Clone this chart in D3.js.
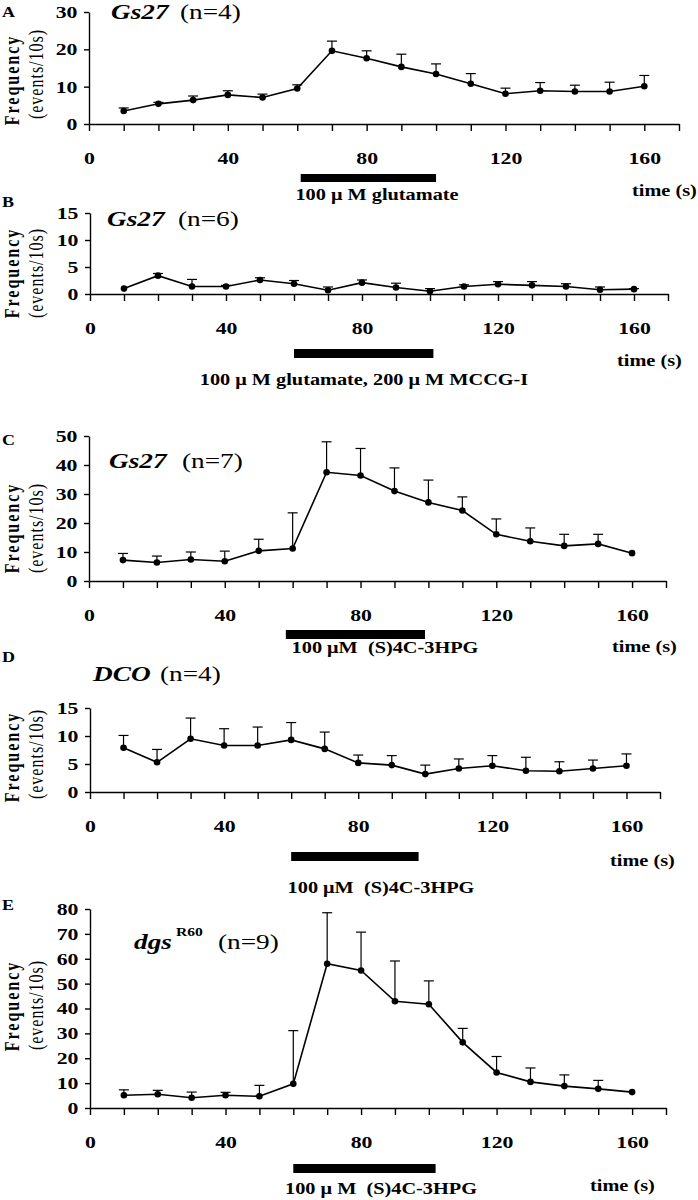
<!DOCTYPE html>
<html><head><meta charset="utf-8">
<script src="https://cdn.jsdelivr.net/npm/d3@7"></script>
<style>
body{margin:0;background:#fff}
svg{display:block}
text{font-family:"Liberation Serif","Times New Roman",serif;white-space:pre;fill:#000}
</style>
</head><body>
<svg id="c" width="698" height="1200"></svg>
<script>
// ---------- data ----------
const times = [10,20,30,40,50,60,70,80,90,100,110,120,130,140,150,160];
const xTickLabels = [0,40,80,120,160];

const meanA = [3.5,5.4,6.4,7.8,7.1,9.5,19.6,17.6,15.3,13.4,10.8,8.1,8.9,8.7,8.7,10.1];
const semA  = [0.8,0.4,1.1,1.1,0.9,1.0,2.6,2.0,3.4,2.7,2.7,1.5,2.2,1.7,2.5,2.9];

const meanB = [1.0,3.4,1.4,1.4,2.6,1.9,0.7,2.1,1.2,0.5,1.4,1.8,1.6,1.4,0.8,0.9];
const semB  = [0.0,0.4,1.3,0.2,0.4,0.6,0.6,0.5,0.8,0.5,0.3,0.5,0.7,0.5,0.5,0.1];

const meanC = [7.2,6.4,7.4,6.8,10.4,11.2,37.5,36.4,31.0,27.1,24.3,16.1,13.7,12.1,12.8,9.6];
const semC  = [2.3,2.2,2.6,3.5,4.0,12.3,10.5,9.3,8.0,7.7,4.7,5.3,4.6,4.0,3.3,0.0];

const meanD = [7.9,5.3,9.5,8.3,8.3,9.3,7.7,5.2,4.8,3.2,4.2,4.7,3.8,3.7,4.2,4.7];
const semD  = [2.2,2.3,3.7,3.0,3.3,3.1,3.0,1.4,1.7,1.6,1.7,1.8,2.4,1.7,1.5,2.1];

const meanE = [5.1,5.5,4.1,5.1,4.7,9.7,58.0,55.3,42.9,41.7,26.4,14.3,10.5,8.8,7.7,6.4];
const semE  = [2.2,1.6,2.3,1.2,4.4,21.4,20.5,15.4,16.2,9.4,5.6,6.4,5.6,4.5,3.4,0.0];

const yMax   = [30, 15, 50, 15, 80];
const yStep  = [10, 5, 10, 5, 10];
const treatStart = [61, 60, 58, 60, 60];
const treatEnd   = [100, 101, 99, 98, 102];
const panelLetters = ["A","B","C","D","E"];
const genotypes = ["Gs27","Gs27","Gs27","DCO","dgs"];
const nLabels = ["(n=4)","(n=6)","(n=7)","(n=4)","(n=9)"];
const treatLabels = [
  "100 \u03BC M glutamate",
  "100 \u03BC M glutamate, 200 \u03BC M MCCG-I",
  "100 \u03BCM  (S)4C-3HPG",
  "100 \u03BCM  (S)4C-3HPG",
  "100 \u03BC M  (S)4C-3HPG"
];
const means = [meanA, meanB, meanC, meanD, meanE];
const sems  = [semA, semB, semC, semD, semE];

// ---------- layout ----------
const layout = [
  {x0:89, x1:679, y0:124, y1:12,  bar:[174,182], tx:377, ty:200, timeX:632, timeY:196, letY:17,  titX:111, titY:19,  nX:180, fy:80,  ey:74},
  {x0:90, x1:668, y0:294, y1:213, bar:[349,358], tx:364, ty:385, timeX:617, timeY:366, letY:207, titX:107, titY:226, nX:178, fy:273, ey:273},
  {x0:89, x1:666, y0:581, y1:436, bar:[630,639], tx:385, ty:653, timeX:612, timeY:652, letY:445, titX:109, titY:468, nX:182, fy:528, ey:528},
  {x0:90, x1:660, y0:792, y1:708, bar:[852,861], tx:381, ty:893, timeX:610, timeY:866, letY:662, titX:93,  titY:681, nX:160, fy:757, ey:754},
  {x0:90, x1:666, y0:1108,y1:909, bar:[1164,1173],tx:381, ty:1194,timeX:590, timeY:1191,letY:910, titX:134, titY:949, nX:218, fy:1006,ey:1005}
];

const FONT = '"Liberation Serif","Times New Roman",serif';
const svg = d3.select("#c");

function T(parent, x, y, str, o = {}) {
  const sx = o.sx || 1.28;
  const g = parent.append("g")
    .attr("transform", `translate(${x},${y}) scale(${sx},1)` + (o.rot ? " rotate(-90)" : ""));
  const t = g.append("text").text(str)
    .attr("font-size", o.size || 16)
    .attr("font-weight", o.weight || "bold")
    .attr("font-style", o.style || "normal")
    .attr("text-anchor", o.anchor || "start");
  if (o.ls) t.attr("letter-spacing", o.ls);
  return t;
}

layout.forEach((L, i) => {
  const x = d3.scaleLinear().domain([0,170]).range([L.x0, L.x1]);
  const y = d3.scaleLinear().domain([0,yMax[i]]).range([L.y0, L.y1]);
  const g = svg.append("g");

  // x tick marks
  const xa = g.append("g").attr("transform", `translate(0,${L.y0})`)
    .call(d3.axisBottom(x).tickValues(d3.range(0,171,10)).tickSize(7).tickSizeOuter(0).tickFormat(""));
  xa.selectAll("path,line").attr("stroke","#000").attr("stroke-width",1.4);

  // x tick labels
  const xl = g.append("g").attr("transform", `translate(0,${L.y0})`)
    .call(d3.axisBottom(x).tickValues(xTickLabels).tickSize(0).tickPadding(28));
  xl.select(".domain").remove();
  xl.selectAll("text")
    .attr("transform", "scale(1.28,1)")
    .attr("font-family", FONT)
    .attr("font-size", 17).attr("font-weight","bold").attr("fill","#000");

  // y axis
  const ya = g.append("g").attr("transform", `translate(${L.x0},0)`)
    .call(d3.axisLeft(y).tickValues(d3.range(0, yMax[i]+0.001, yStep[i])).tickSize(5).tickSizeOuter(0).tickPadding(4));
  ya.selectAll("path,line").attr("stroke","#000").attr("stroke-width",1.4);
  ya.selectAll("text")
    .attr("transform", "scale(1.28,1)")
    .attr("font-family", FONT)
    .attr("font-size", 17).attr("font-weight","bold").attr("fill","#000");

  // error bars
  const eb = g.append("g").attr("stroke","#000").attr("stroke-width",1.2);
  times.forEach((t, k) => {
    const m = means[i][k], s = sems[i][k];
    if (s <= 0) return;
    eb.append("line").attr("x1", x(t)).attr("x2", x(t)).attr("y1", y(m)).attr("y2", y(m+s));
    eb.append("line").attr("x1", x(t)-5).attr("x2", x(t)+5).attr("y1", y(m+s)).attr("y2", y(m+s));
  });

  // line
  g.append("path")
    .datum(times.map((t,k) => [t, means[i][k]]))
    .attr("fill","none").attr("stroke","#000").attr("stroke-width",1.6)
    .attr("d", d3.line().x(d => x(d[0])).y(d => y(d[1])));

  // points
  g.selectAll("circle.pt").data(times.map((t,k) => [t, means[i][k]])).enter()
    .append("circle").attr("class","pt")
    .attr("cx", d => x(d[0])).attr("cy", d => y(d[1])).attr("r", 3.3).attr("fill","#000");

  // treatment bar
  g.append("rect")
    .attr("x", x(treatStart[i])).attr("width", x(treatEnd[i]) - x(treatStart[i]))
    .attr("y", L.bar[0]).attr("height", L.bar[1]-L.bar[0]).attr("fill","#000");
  T(g, L.tx, L.ty, treatLabels[i], {size:16, sx:1.27, anchor:"middle"});
  T(g, L.timeX, L.timeY, "time (s)", {size:16, sx:1.27});

  // panel letter
  T(g, 2, L.letY, panelLetters[i], {size:15, sx:1.2});

  // title
  T(g, L.titX, L.titY, genotypes[i], {size:21, sx:1.3, style:"italic"});
  if (i === 4) T(g, 176, 936, "R60", {size:12, sx:1.3});
  T(g, L.nX, L.titY, nLabels[i], {size:21, sx:1.3, weight:"normal"});

  // y titles
  T(g, 19, L.fy, "Frequency", {size:16, sx:1.25, rot:true, anchor:"middle", ls:2});
  T(g, 43, L.ey, "(events/10s)", {size:16, sx:1.25, weight:"normal", rot:true, anchor:"middle", ls:1});
});
</script>
</body></html>
